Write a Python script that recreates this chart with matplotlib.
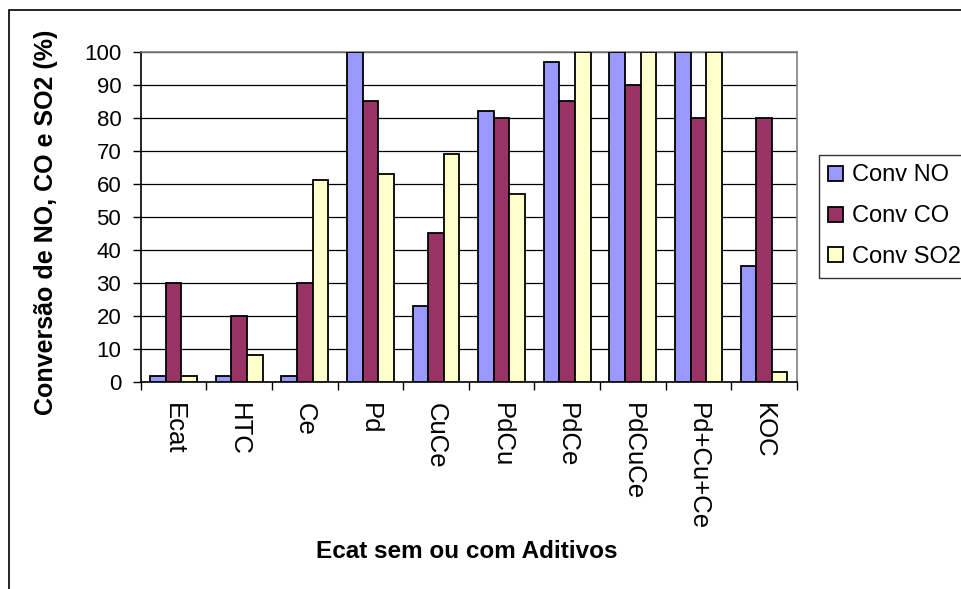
import numpy as np
import matplotlib
matplotlib.use("Agg")
import matplotlib.pyplot as plt
from matplotlib.patches import Rectangle

plt.rcParams['font.family'] = ['Liberation Sans', 'DejaVu Sans']

# Conversion (%) per catalyst / additive
categorias = ["Ecat", "HTC", "Ce", "Pd", "CuCe", "PdCu", "PdCe", "PdCuCe",
              "Pd+Cu+Ce", "KOC"]
conv_no = [1.7, 1.7, 1.7, 100, 23, 82, 97, 100, 100, 35]
conv_co = [30, 20, 30, 85, 45, 80, 85, 90, 80, 80]
conv_so2 = [1.7, 8, 61, 63, 69, 57, 100, 100, 100, 3]
series = ["Conv NO", "Conv CO", "Conv SO2"]
cores = ["#9999FF", "#993366", "#FFFFCC"]

fig = plt.figure(figsize=(9.62, 5.89), dpi=100)
ax = fig.add_axes([0.1463, 0.352, 0.6819, 0.5603])

# Outer chart frame (runs off the right and bottom edges)
fig.patches.append(Rectangle((9 / 962, -0.1), 1.2, 1 - 10 / 589 + 0.1,
                             transform=fig.transFigure, fill=False,
                             edgecolor="black", lw=1.2, zorder=0))

x = np.arange(len(categorias))
w = 1 / 4.2
for j, (vals, nome, cor) in enumerate(zip([conv_no, conv_co, conv_so2],
                                          series, cores)):
    ax.bar(x + (j - 1) * w, vals, width=w, color=cor, edgecolor="black",
           linewidth=1.3, label=nome, zorder=3)

ax.set_xlim(-0.5, len(categorias) - 0.5)
ax.set_ylim(0, 100)
ax.set_yticks(range(0, 101, 10))
ax.yaxis.grid(True, color="black", lw=0.9, zorder=0)
ax.set_axisbelow(True)

# ticks between categories, labels centred under each group
ax.set_xticks(np.arange(-0.5, len(categorias), 1))
ax.set_xticklabels([])
ax.set_xticks(x, minor=True)
ax.set_xticklabels(categorias, minor=True, rotation=270, fontsize=18.5,
                   va="top", ha="center")
ax.tick_params(axis="x", which="major", length=6, width=1, direction="out")
ax.tick_params(axis="x", which="minor", length=0, pad=15)
ax.tick_params(axis="y", length=6, width=1, direction="out", pad=8,
               labelsize=16)

for s in ["top", "right"]:
    ax.spines[s].set_color("#808080")
    ax.spines[s].set_linewidth(1.2)
for s in ["left", "bottom"]:
    ax.spines[s].set_color("black")
    ax.spines[s].set_linewidth(1.2)

fig.text(46 / 962, 1 - 222 / 589, "Conversão de NO, CO e SO2 (%)",
         rotation=90, ha="center", va="center", fontsize=18,
         fontweight="bold")
fig.text(467 / 962, 1 - 551 / 589, "Ecat sem ou com Aditivos",
         ha="center", va="center", fontsize=17.5, fontweight="bold")

leg = fig.legend(loc="upper left", bbox_to_anchor=(819 / 962, 1 - 155 / 589),
                 fontsize=17, frameon=True, fancybox=False, edgecolor="black",
                 handlelength=0.6, handleheight=0.6, handletextpad=0.4,
                 labelspacing=0.8, borderpad=0.4, borderaxespad=0)
leg.get_frame().set_linewidth(1.0)

fig.savefig("out.png", dpi=100)
